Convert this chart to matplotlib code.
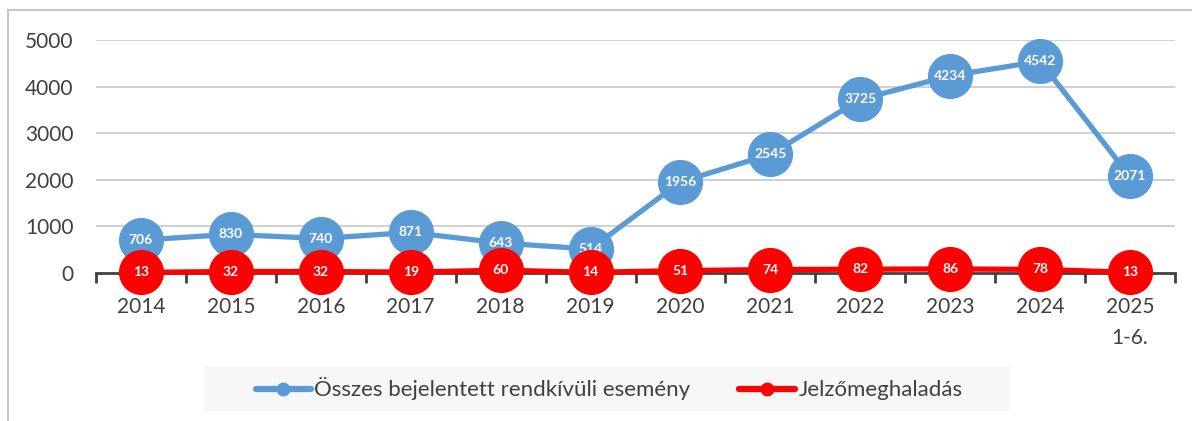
import matplotlib
matplotlib.use("Agg")
import matplotlib.pyplot as plt
from matplotlib.lines import Line2D
from matplotlib.patches import Rectangle
from matplotlib.ticker import FixedLocator, NullFormatter

plt.rcParams['font.family'] = ['Lato', 'DejaVu Sans']

categories = ["2014", "2015", "2016", "2017", "2018", "2019",
              "2020", "2021", "2022", "2023", "2024", "2025\n1-6."]
total_events = [706, 830, 740, 871, 643, 514, 1956, 2545, 3725, 4234, 4542, 2071]
exceedances = [13, 32, 32, 19, 60, 14, 51, 74, 82, 86, 78, 13]
series_names = ["Összes bejelentett rendkívüli esemény", "Jelzőmeghaladás"]
y_ticks = [0, 1000, 2000, 3000, 4000, 5000]

BLUE = "#5B9BD5"
RED = "#FF0000"
TEXT = "#404040"

W, H = 1192, 421
fig = plt.figure(figsize=(W / 100, H / 100), dpi=100)
ax = fig.add_axes([96 / W, 1 - 273 / H, (1175 - 96) / W, (273 - 40) / H])

x = list(range(len(categories)))

for vals, color, name, z in [(total_events, BLUE, series_names[0], 3),
                             (exceedances, RED, series_names[1], 4)]:
    ax.plot(x, vals, color=color, lw=3.8, marker="o", ms=31.5,
            mec=color, mfc=color, zorder=z, clip_on=False, label=name,
            solid_capstyle="round")
    for xi, v in zip(x, vals):
        ax.text(xi, v, str(v), ha="center", va="center", color="white",
                fontsize=10, fontweight="bold", zorder=z + 0.5)

ax.set_xlim(-0.5, len(categories) - 0.5)
ax.set_ylim(0, 5000)

# gridlines and axes
ax.set_yticks(y_ticks)
ax.set_yticklabels([str(t) for t in y_ticks], fontsize=15, color=TEXT)
ax.tick_params(axis="y", length=0, pad=16)
for t in y_ticks[1:]:
    ax.axhline(t, color="#C8C8C8", lw=1.2, zorder=1)

ax.xaxis.set_major_locator(FixedLocator([i - 0.5 for i in range(len(categories) + 1)]))
ax.xaxis.set_major_formatter(NullFormatter())
ax.xaxis.set_minor_locator(FixedLocator(x))
ax.set_xticklabels(categories, minor=True, fontsize=15, color=TEXT,
                   linespacing=1.65, va="top")
ax.tick_params(axis="x", which="major", length=7, width=2, color="#404040", direction="out")
ax.tick_params(axis="x", which="minor", length=0, pad=17.5)

for side in ["top", "right", "left"]:
    ax.spines[side].set_visible(False)
ax.spines["bottom"].set_color("#404040")
ax.spines["bottom"].set_linewidth(2)
ax.spines["bottom"].set_zorder(2)
ax.set_facecolor("none")

# legend on a light panel
fig.add_artist(Rectangle((204 / W, 1 - 411 / H), (1010 - 204) / W, 45 / H,
                         transform=fig.transFigure, facecolor="#F7F7F7",
                         edgecolor="none", zorder=0))
handles = [Line2D([0], [0], color=BLUE, lw=4.5, marker="o", ms=9, solid_capstyle="round"),
           Line2D([0], [0], color=RED, lw=4.5, marker="o", ms=9, solid_capstyle="round")]
leg = fig.legend(handles, series_names, loc="center", bbox_to_anchor=(609 / W, 1 - 389 / H),
                 ncol=2, frameon=False, fontsize=16, handlelength=2.5, handletextpad=0.15,
                 columnspacing=2.2, labelcolor=TEXT)

# outer frame
fig.add_artist(Line2D([8 / W, 1.0], [1 - 10 / H, 1 - 10 / H], color="#C8C8C8", lw=1.5))
fig.add_artist(Line2D([8 / W, 8 / W], [0, 1 - 10 / H], color="#C8C8C8", lw=1.5))

fig.savefig("out.png", dpi=100)
